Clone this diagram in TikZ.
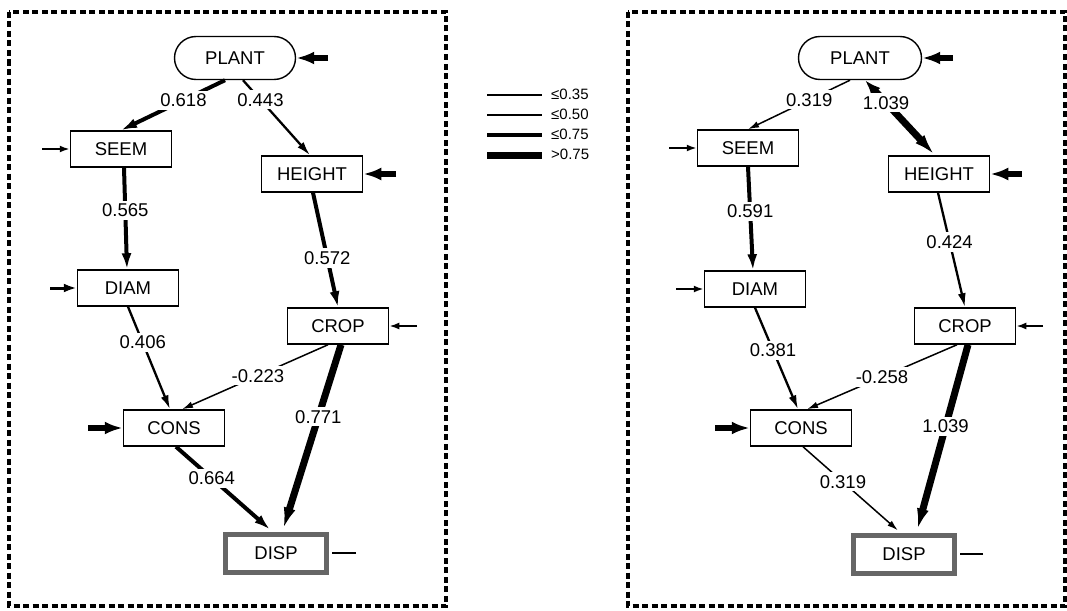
\documentclass[tikz,border=0pt]{standalone}
\usepackage{fontspec}
\setmainfont{Liberation Sans}
\usetikzlibrary{arrows.meta,shapes.misc}
\begin{document}
\begin{tikzpicture}[x=1pt,y=-1pt,
  box/.style={draw,line width=1.5pt,minimum width=101pt,minimum height=36pt,inner sep=0pt,font=\fontsize{18.5}{21}\selectfont},
  plantbox/.style={draw,line width=1.4pt,rounded rectangle,minimum width=121pt,minimum height=43pt,inner sep=0pt,font=\fontsize{18.5}{21}\selectfont},
  dispbox/.style={draw=black!60,line width=5pt,minimum width=101pt,minimum height=38pt,inner sep=0pt,font=\fontsize{18.5}{21}\selectfont},
  lbl/.style={fill=white,inner sep=3pt,font=\fontsize{18.5}{21}\selectfont},
  panel/.style={line width=3.5pt,dash pattern=on 6pt off 3.5pt},
  wa/.style={line width=1.5pt,-{Latex[length=11pt,width=6.5pt]}},
  wb/.style={line width=2.3pt,-{Latex[length=14pt,width=8pt]}},
  wc/.style={line width=4pt,-{Latex[length=16pt,width=10pt]}},
  wd/.style={line width=7pt,-{Latex[length=22pt,width=12pt]}},
  ia/.style={line width=2pt,-{Latex[length=10pt,width=7pt]}},
  ib/.style={line width=3pt,-{Latex[length=13pt,width=9pt]}},
  ic/.style={line width=6pt,-{Latex[length=18pt,width=13pt]}},
  leg/.style={font=\fontsize{15}{17}\selectfont,anchor=west,inner sep=0pt}
]
\useasboundingbox (0,0) rectangle (1067,610);
% panels
\draw[panel] (9,12) rectangle (446,606);
\draw[panel] (628,12) rectangle (1065,606);

% ---------- left panel ----------
\node[plantbox] (lplant) at (235,58) {PLANT};
\node[box] (lseem) at (121,149) {SEEM};
\node[box] (lheight) at (312,174) {HEIGHT};
\node[box] (ldiam) at (128,288) {DIAM};
\node[box] (lcons) at (174,428) {CONS};
\node[box] (lcrop) at (338,326) {CROP};
\node[dispbox] (ldisp) at (276,553) {DISP};

\coordinate (liplant) at (328,58);
\coordinate (liseem) at (42,149);
\coordinate (liheight) at (396,174);
\coordinate (lidiam) at (50,288);
\coordinate (licons) at (88,428);
\coordinate (licrop) at (417,326);
\coordinate (lidisp) at (356,553);

\draw[ic] (liplant) -- (lplant.east);
\draw[ia] (liseem) -- (lseem.west);
\draw[ic] (liheight) -- (lheight.east);
\draw[ib] (lidiam) -- (ldiam.west);
\draw[ic] (licons) -- (lcons.west);
\draw[ia] (licrop) -- (lcrop.east);
\draw[line width=1.5pt] (lidisp) -- ([xshift=2.5pt]ldisp.east);

\draw[wc] ([xshift=-10pt]lplant.south) -- (lseem.north) node[lbl,pos=0.4] {0.618};
\draw[wb] ([xshift=8pt]lplant.south) -- ([xshift=-2pt]lheight.north) node[lbl,pos=0.26] {0.443};
\draw[wc] ([xshift=3pt]lseem.south) -- ([xshift=-1pt]ldiam.north) node[lbl,pos=0.42] {0.565};
\draw[wc] ([xshift=1pt]lheight.south) -- (lcrop.north) node[lbl,pos=0.57] {0.572};
\draw[wb] (ldiam.south) -- ([xshift=-4pt]lcons.north) node[lbl,pos=0.35] {0.406};
\draw[wa] ([xshift=-10pt]lcrop.south) -- ([xshift=8pt]lcons.north) node[lbl,pos=0.48] {-0.223};
\draw[wd] ([xshift=3pt]lcrop.south) -- ([xshift=7pt,yshift=2pt]ldisp.north) node[lbl,pos=0.39] {0.771};
\draw[wc] ([xshift=2pt]lcons.south) -- ([xshift=-6pt,yshift=2pt]ldisp.north) node[lbl,pos=0.38] {0.664};

% ---------- legend ----------
\coordinate (l1a) at (487,95); \coordinate (l1b) at (542,95);
\coordinate (l2a) at (487,115); \coordinate (l2b) at (542,115);
\coordinate (l3a) at (487,135); \coordinate (l3b) at (542,135);
\coordinate (l4a) at (487,155); \coordinate (l4b) at (542,155);
\draw[line width=1.5pt] (l1a) -- (l1b);
\draw[line width=2.3pt] (l2a) -- (l2b);
\draw[line width=4pt] (l3a) -- (l3b);
\draw[line width=7pt] (l4a) -- (l4b);
\node[leg] (t1) at (551,94) {≤0.35};
\node[leg] (t2) at (551,114) {≤0.50};
\node[leg] (t3) at (551,134) {≤0.75};
\node[leg] (t4) at (551,154) {>0.75};

% ---------- right panel ----------
\node[plantbox,minimum width=123pt] (rplant) at (860,58) {PLANT};
\node[box] (rseem) at (748,148) {SEEM};
\node[box] (rheight) at (939,174) {HEIGHT};
\node[box] (rdiam) at (755,289) {DIAM};
\node[box] (rcons) at (801,428) {CONS};
\node[box] (rcrop) at (965,326) {CROP};
\node[dispbox] (rdisp) at (904,554) {DISP};

\coordinate (riplant) at (953,58);
\coordinate (riseem) at (669,148);
\coordinate (riheight) at (1022,174);
\coordinate (ridiam) at (676,289);
\coordinate (ricons) at (715,428);
\coordinate (ricrop) at (1043,326);
\coordinate (ridisp) at (983,554);

\draw[ic] (riplant) -- (rplant.east);
\draw[ia] (riseem) -- (rseem.west);
\draw[ic] (riheight) -- (rheight.east);
\draw[ia] (ridiam) -- (rdiam.west);
\draw[ic] (ricons) -- (rcons.west);
\draw[ia] (ricrop) -- (rcrop.east);
\draw[line width=1.5pt] (ridisp) -- ([xshift=2.5pt]rdisp.east);

\draw[wa] ([xshift=-10pt]rplant.south) -- (rseem.north) node[lbl,pos=0.4] {0.319};
\draw[line width=7pt,{Latex[length=16pt,width=12pt]}-{Latex[length=22pt,width=12pt]}] ([xshift=5pt]rplant.south) -- ([xshift=-4pt]rheight.north) node[lbl,pos=0.3] {1.039};
\draw[wc] (rseem.south) -- ([xshift=-2pt]rdiam.north) node[lbl,pos=0.43] {0.591};
\draw[wb] ([xshift=-1pt]rheight.south) -- (rcrop.north) node[lbl,pos=0.43] {0.424};
\draw[wb] (rdiam.south) -- ([xshift=-3pt]rcons.north) node[lbl,pos=0.42] {0.381};
\draw[wa] ([xshift=-8pt]rcrop.south) -- ([xshift=6pt]rcons.north) node[lbl,pos=0.5] {-0.258};
\draw[wd] ([xshift=3pt]rcrop.south) -- ([xshift=13pt,yshift=2pt]rdisp.north) node[lbl,pos=0.44] {1.039};
\draw[wa] ([xshift=2pt]rcons.south) -- ([xshift=-6pt,yshift=2pt]rdisp.north) node[lbl,pos=0.42] {0.319};
\end{tikzpicture}
\end{document}
